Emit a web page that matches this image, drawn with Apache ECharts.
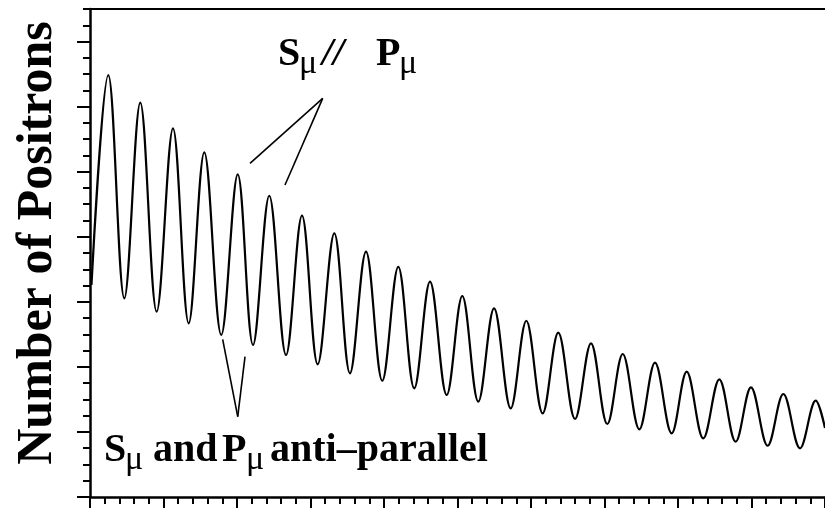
<!DOCTYPE html>
<html>
<head>
<meta charset="utf-8">
<script src="https://cdn.jsdelivr.net/npm/echarts@6/dist/echarts.min.js"></script>
<style>
  html, body { margin: 0; padding: 0; background: #fff; }
  #chart { width: 825px; height: 508px; }
</style>
</head>
<body>
<div id="chart"></div>
<script>
// extrema of the precession signal (troughs and peaks alternate)
const times = [
  0.02, 0.249, 0.467, 0.684, 0.907, 1.129, 1.343, 1.555, 1.786, 2.010,
  2.218, 2.439, 2.667, 2.884, 3.098, 3.324, 3.537, 3.755, 3.977, 4.194,
  4.412, 4.626, 4.853, 5.065, 5.283, 5.497, 5.724, 5.936, 6.159, 6.371,
  6.599, 6.816, 7.038, 7.248, 7.474, 7.687, 7.914, 8.118, 8.344, 8.562,
  8.785, 8.993, 9.220, 9.433, 9.660, 9.874, 10.0
]
const counts = [
  3.26, 6.485, 3.054, 6.060, 2.848, 5.666, 2.669, 5.297, 2.490, 4.959,
  2.336, 4.630, 2.182, 4.323, 2.039, 4.053, 1.901, 3.770, 1.787, 3.539,
  1.670, 3.309, 1.568, 3.089, 1.465, 2.900, 1.363, 2.709, 1.286, 2.525,
  1.199, 2.362, 1.122, 2.198, 1.040, 2.064, 0.979, 1.926, 0.902, 1.809,
  0.850, 1.686, 0.788, 1.583, 0.748, 1.480, 1.06
]
// annotation pointers [x1, y1, x2, y2] in axis units
const pointerParallel = [
  [3.166, 6.127, 2.177, 5.128],
  [3.166, 6.127, 2.653, 4.795]
]
const pointerAnti = [
  [2.010, 1.234, 1.805, 2.424],
  [2.010, 1.234, 2.109, 2.157]
]
const yLabel = 'Number of Positrons'
const labelParallel = ['S', 'μ', '//', 'P', 'μ']
const labelAnti = ['S', 'μ', 'and', 'P', 'μ', 'anti–parallel']

const chart = echarts.init(document.getElementById('chart'))

const serif = 'Liberation Serif'

// build one annotation line out of pieces; μ is set as a lowered subscript
function annotation(words, xs, baseline) {
  return words.map((w, i) => {
    const sub = w === 'μ'
    const size = sub ? 34 : 40
    return {
      type: 'text',
      x: xs[i],
      y: (sub ? baseline + 7 : baseline) - 0.305 * size,
      style: {
        text: w,
        fontFamily: serif,
        fontWeight: sub ? 'normal' : 'bold',
        fontStyle: w === '//' ? 'italic' : 'normal',
        fontSize: size,
        fill: '#000',
        align: 'left',
        verticalAlign: 'middle'
      }
    }
  })
}

const pointers = pointerParallel.concat(pointerAnti).map((p) => [
  { coord: [p[0], p[1]] },
  { coord: [p[2], p[3]] }
])

const tickLine = { color: '#000', width: 2 }

const option = {
  backgroundColor: '#fff',
  animation: false,
  grid: [
    { left: 90, right: 0, top: 9, bottom: 11, outerBoundsMode: 'none' },
    // second grid only carries the long y ticks (0..7)
    { left: 90, right: 0, top: 41.53, bottom: 11, outerBoundsMode: 'none' }
  ],
  xAxis: [
    {
      type: 'value', gridIndex: 0, min: 0, max: 10, interval: 1,
      axisLine: { show: true, onZero: false, lineStyle: { color: '#000', width: 2.5 } },
      axisTick: { show: true, inside: false, length: 13, lineStyle: tickLine },
      minorTick: { show: true, splitNumber: 5, length: 7, lineStyle: tickLine },
      axisLabel: { show: false },
      splitLine: { show: false }
    },
    {
      type: 'value', gridIndex: 0, position: 'top', min: 0, max: 10,
      axisLine: { show: true, onZero: false, lineStyle: { color: '#000', width: 2 } },
      axisTick: { show: false },
      axisLabel: { show: false },
      splitLine: { show: false }
    },
    { type: 'value', gridIndex: 1, min: 0, max: 10, show: false }
  ],
  yAxis: [
    {
      type: 'value', gridIndex: 0, min: 0, max: 7.5, interval: 0.25,
      axisLine: { show: true, onZero: false, lineStyle: { color: '#000', width: 2.5 } },
      axisTick: { show: true, inside: false, length: 7, lineStyle: tickLine },
      axisLabel: { show: false },
      splitLine: { show: false }
    },
    {
      type: 'value', gridIndex: 1, min: 0, max: 7, interval: 1,
      axisLine: { show: false },
      axisTick: { show: true, inside: false, length: 13, lineStyle: tickLine },
      axisLabel: { show: false },
      splitLine: { show: false }
    }
  ],
  series: [
    {
      type: 'line',
      xAxisIndex: 0,
      yAxisIndex: 0,
      data: times.map((t, i) => [t, counts[i]]),
      smooth: 0.36,
      symbol: 'none',
      lineStyle: { color: '#000', width: 2.2 },
      markLine: {
        silent: true,
        symbol: ['none', 'none'],
        label: { show: false },
        lineStyle: { color: '#000', width: 1.6, type: 'solid' },
        data: pointers
      }
    }
  ],
  graphic: [
    {
      type: 'text',
      x: 38,
      y: 243,
      rotation: Math.PI / 2,
      style: {
        text: yLabel,
        fontFamily: serif,
        fontWeight: 'bold',
        fontSize: 50,
        fill: '#000',
        align: 'center',
        verticalAlign: 'middle'
      }
    }
  ]
    .concat(annotation(labelParallel, [278, 299, 322, 376, 399], 67))
    .concat(annotation(labelAnti, [104, 125, 153, 222, 246, 270], 463))
}

chart.setOption(option)
</script>
</body>
</html>
